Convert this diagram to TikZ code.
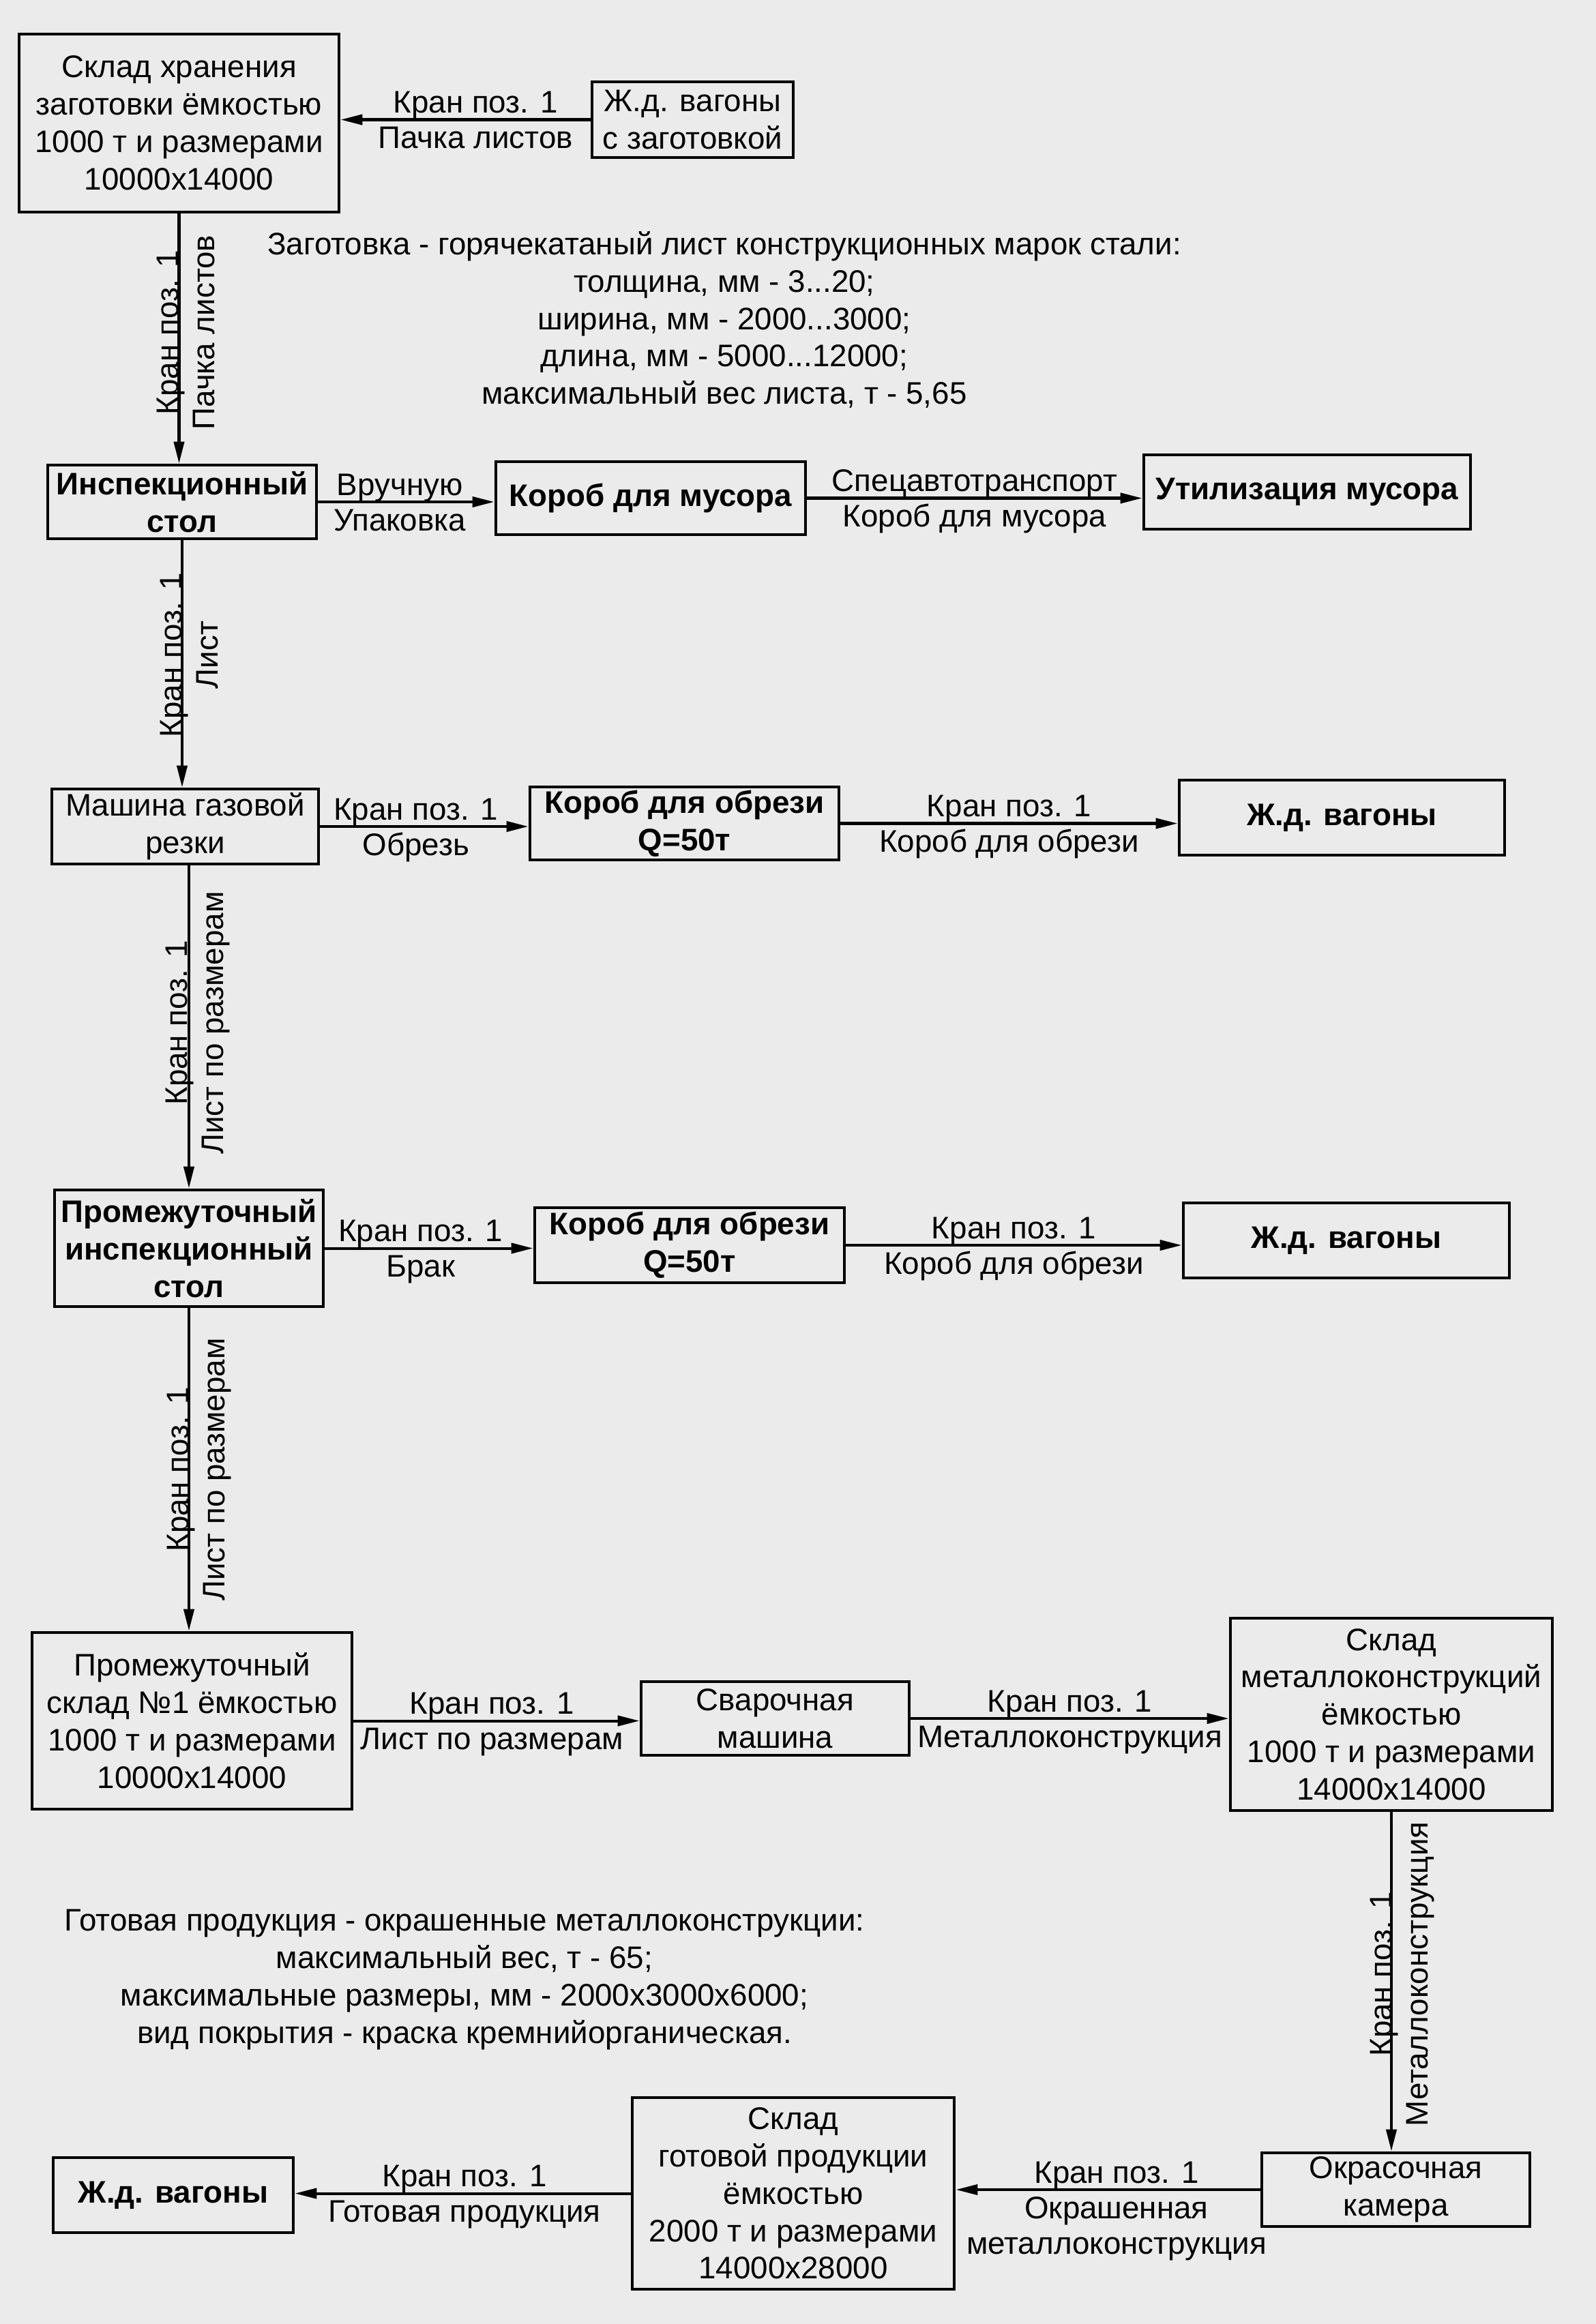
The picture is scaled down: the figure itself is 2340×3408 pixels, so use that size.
\documentclass[tikz,border=0pt]{standalone}
\usepackage{fontspec}
\setmainfont{Liberation Sans}
\usetikzlibrary{arrows.meta,calc}
\newcommand\dsize{\fontsize{13pt}{15.6pt}\selectfont}
\begin{document}
\begin{tikzpicture}[x=0.01cm, y=-0.01cm, font=\dsize,
  box/.style={draw, line width=1.3pt, inner sep=0pt, align=center},
  bbox/.style={box, font=\dsize\bfseries},
  arr/.style={line width=1.15pt, -{Triangle[length=0.32cm,width=0.15cm]}},
  lt/.style={anchor=base, yshift=0.10cm},
  lb/.style={anchor=base, yshift=-0.42cm},
  lbb/.style={anchor=base, yshift=-0.94cm},
  vl/.style={anchor=base, rotate=90}]
\fill[black!8] (0,0) rectangle (2340,3408);
\useasboundingbox (0,0) rectangle (2340,3408);

% boxes
\node[box, minimum width=4.69cm, minimum height=2.61cm] (A) at (262.5,180.5) {Склад хранения\\заготовки ёмкостью\\1000 т и размерами\\10000x14000};
\node[box, minimum width=2.95cm, minimum height=1.11cm] (B) at (1015.5,175.5) {Ж.д. вагоны\\с заготовкой};
\node[bbox, minimum width=3.94cm, minimum height=1.08cm] (C) at (267,736) {Инспекционный\\стол};
\node[bbox, minimum width=4.54cm, minimum height=1.07cm] (D) at (954,730.5) {Короб для мусора};
\node[bbox, minimum width=4.79cm, minimum height=1.09cm] (E) at (1916.5,721.5) {Утилизация мусора};
\node[box, minimum width=3.91cm, minimum height=1.10cm] (F) at (271.5,1212) {Машина газовой\\резки};
\node[bbox, minimum width=4.53cm, minimum height=1.07cm] (G) at (1003.5,1207.5) {Короб для обрези\\Q=50т};
\node[bbox, minimum width=4.77cm, minimum height=1.10cm] (H) at (1967.5,1199) {Ж.д. вагоны};
\node[bbox, minimum width=3.94cm, minimum height=1.71cm] (I) at (277,1830.5) {Промежуточный\\инспекционный\\стол};
\node[bbox, minimum width=4.54cm, minimum height=1.10cm] (J) at (1011,1826) {Короб для обрези\\Q=50т};
\node[bbox, minimum width=4.78cm, minimum height=1.10cm] (K) at (1974,1819) {Ж.д. вагоны};
\node[box, minimum width=4.69cm, minimum height=2.59cm] (L) at (281.5,2523.5) {Промежуточный\\склад №1 ёмкостью\\1000 т и размерами\\10000x14000};
\node[box, minimum width=3.93cm, minimum height=1.08cm] (M) at (1136.5,2520) {Сварочная\\машина};
\node[box, minimum width=4.72cm, minimum height=2.82cm] (N) at (2040,2514) {Склад\\металлоконструкций\\ёмкостью\\1000 т и размерами\\14000x14000};
\node[box, minimum width=3.93cm, minimum height=1.08cm] (O) at (2046.5,3211) {Окрасочная\\камера};
\node[box, minimum width=4.72cm, minimum height=2.81cm] (P) at (1163,3216.5) {Склад\\готовой продукции\\ёмкостью\\2000 т и размерами\\14000x28000};
\node[bbox, minimum width=3.52cm, minimum height=1.10cm] (Q) at (254,3219) {Ж.д. вагоны};

% notes
\node[align=center] (T1) at (1062,469) {Заготовка - горячекатаный лист конструкционных марок стали:\\толщина, мм - 3...20;\\ширина, мм - 2000...3000;\\длина, мм - 5000...12000;\\максимальный вес листа, т - 5,65};
\node[align=center] (T2) at (681,2903) {Готовая продукция - окрашенные металлоконструкции:\\максимальный вес, т - 65;\\максимальные размеры, мм - 2000x3000x6000;\\вид покрытия - краска кремнийорганическая.};

% horizontal connectors
\draw[arr] (B.west) -- (B.west -| A.east) node[lt,pos=0.46] {Кран поз. 1} node[lb,pos=0.46] {Пачка листов};
\draw[arr] (C.east) -- (C.east -| D.west) node[lt,pos=0.464] {Вручную} node[lb,pos=0.464] {Упаковка};
\draw[arr] (D.east) -- (D.east -| E.west) node[lt,pos=0.5] {Спецавтотранспорт} node[lb,pos=0.5] {Короб для мусора};
\draw[arr] (F.east) -- (F.east -| G.west) node[lt,pos=0.46] {Кран поз. 1} node[lb,pos=0.46] {Обрезь};
\draw[arr] (G.east) -- (G.east -| H.west) node[lt,pos=0.5] {Кран поз. 1} node[lb,pos=0.5] {Короб для обрези};
\draw[arr] (I.east) -- (I.east -| J.west) node[lt,pos=0.46] {Кран поз. 1} node[lb,pos=0.46] {Брак};
\draw[arr] (J.east) -- (J.east -| K.west) node[lt,pos=0.5] {Кран поз. 1} node[lb,pos=0.5] {Короб для обрези};
\draw[arr] (L.east) -- (L.east -| M.west) node[lt,pos=0.484] {Кран поз. 1} node[lb,pos=0.484] {Лист по размерам};
\draw[arr] (M.east) -- (M.east -| N.west) node[lt,pos=0.5] {Кран поз. 1} node[lb,pos=0.5] {Металлоконструкция};
\draw[arr] (O.west) -- (O.west -| P.east) node[lt,pos=0.472] {Кран поз. 1} node[lb,pos=0.472] {Окрашенная} node[lbb,pos=0.472] {металлоконструкция};
\draw[arr] (P.west) -- (P.west -| Q.east) node[lt,pos=0.495] {Кран поз. 1} node[lb,pos=0.495] {Готовая продукция};

% vertical connectors
\draw[arr] (A.south) -- (A.south |- C.north);
\draw[arr] (C.south) -- (C.south |- F.north);
\draw[arr] (F.south -| I.north) -- (I.north);
\draw[arr] (I.south) -- (I.south |- L.north);
\draw[arr] (N.south) -- (N.south |- O.north);

% vertical labels
\node[vl] (v1a) at ($(A.south)!0.5!(C.north)+(-3,-9)$) {Кран поз. 1};
\node[vl] (v1b) at ($(A.south)!0.5!(C.north)+(50,-9)$) {Пачка листов};
\node[vl] (v2a) at ($(C.south)!0.5!(F.north)+(-3,-13)$) {Кран поз. 1};
\node[vl] (v2b) at ($(C.south)!0.5!(F.north)+(50,-13)$) {Лист};
\node[vl] (v3a) at ($(F.south -| I.north)!0.5!(I.north)+(-3,-6)$) {Кран поз. 1};
\node[vl] (v3b) at ($(F.south -| I.north)!0.5!(I.north)+(50,-6)$) {Лист по размерам};
\node[vl] (v4a) at ($(I.south)!0.5!(L.north)+(-3,0)$) {Кран поз. 1};
\node[vl] (v4b) at ($(I.south)!0.5!(L.north)+(50,0)$) {Лист по размерам};
\node[vl] (v5a) at ($(N.south)!0.5!(O.north)+(-3,-11)$) {Кран поз. 1};
\node[vl] (v5b) at ($(N.south)!0.5!(O.north)+(50,-11)$) {Металлоконструкция};
\end{tikzpicture}
\end{document}
